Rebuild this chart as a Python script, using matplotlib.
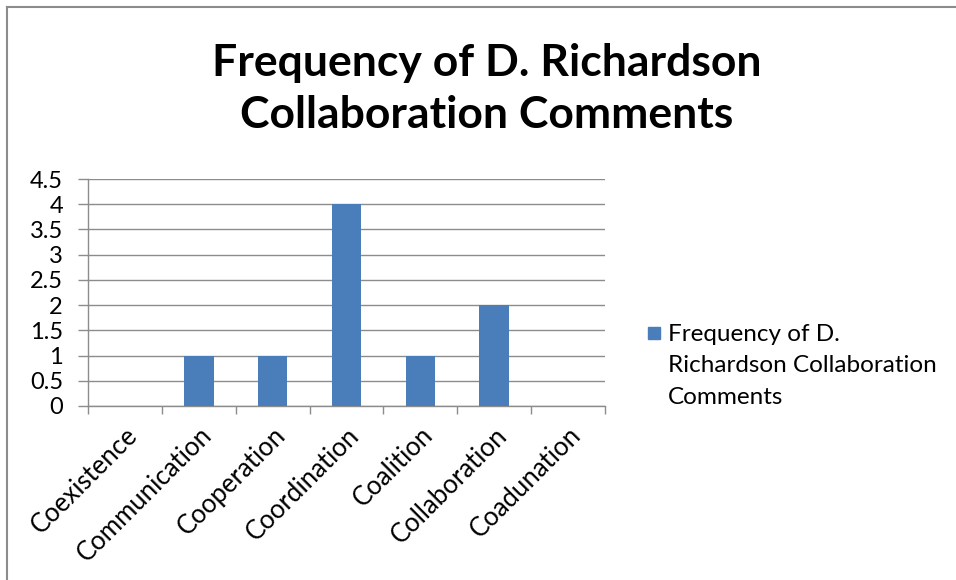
import matplotlib
matplotlib.use("Agg")
import matplotlib.pyplot as plt
from matplotlib.patches import Rectangle
from matplotlib.lines import Line2D

categories = ["Coexistence", "Communication", "Cooperation", "Coordination",
              "Coalition", "Collaboration", "Coadunation"]
values = [0, 1, 1, 4, 1, 2, 0]
yticks = [0, 0.5, 1, 1.5, 2, 2.5, 3, 3.5, 4, 4.5]
ytick_labels = ["0", "0.5", "1", "1.5", "2", "2.5", "3", "3.5", "4", "4.5"]
title = "Frequency of D. Richardson\nCollaboration Comments"
series_name = "Frequency of D.\nRichardson Collaboration\nComments"

plt.rcParams['font.family'] = ['Lato', 'DejaVu Sans']
W, H = 956, 580
fig = plt.figure(figsize=(W / 100, H / 100), dpi=100)

ax = fig.add_axes([88 / W, 1 - 406 / H, (605 - 88) / W, (406 - 179) / H])
x = list(range(len(categories)))
bar_color = "#4A7EBB"
ax.bar(x, values, width=0.4, color=bar_color, zorder=3)

ax.set_xlim(-0.5, len(categories) - 0.5)
ax.set_ylim(0, 4.5)
ax.set_yticks(yticks)
ax.set_yticklabels(ytick_labels, fontsize=17)
ax.yaxis.grid(True, color="#8C8C8C", linewidth=1.0, zorder=0)
ax.tick_params(axis='y', length=7, width=1, color="#8C8C8C", pad=11)

ax.set_xticks([i - 0.5 for i in range(len(categories) + 1)])
ax.set_xticklabels([])
ax.set_xticks(x, minor=True)
ax.set_xticklabels(categories, minor=True, rotation=45, ha='right',
                   rotation_mode='anchor', fontsize=18.5)
ax.tick_params(axis='x', which='major', length=6, width=1, color="#8C8C8C")
ax.tick_params(axis='x', which='minor', length=0, pad=12)

for s in ["top", "right"]:
    ax.spines[s].set_visible(False)
for s in ["left", "bottom"]:
    ax.spines[s].set_color("#8C8C8C")
    ax.spines[s].set_linewidth(1.0)

fig.text(487 / W, 1 - 89 / H, title, ha='center', va='center',
         fontsize=32, fontweight='bold', linespacing=1.38)

# legend swatch and text
fig.patches.append(Rectangle((648 / W, 1 - 339 / H), 12 / W, 12 / H,
                             transform=fig.transFigure, color=bar_color))
fig.text(668 / W, 1 - 366 / H, series_name, ha='left', va='center',
         fontsize=17.5, linespacing=1.62)

# chart border (top and left)
fig.add_artist(Line2D([7 / W, 1], [1 - 7 / H, 1 - 7 / H],
                      transform=fig.transFigure, color="#8C8C8C", linewidth=1.5))
fig.add_artist(Line2D([7 / W, 7 / W], [0, 1 - 7 / H],
                      transform=fig.transFigure, color="#8C8C8C", linewidth=1.5))

fig.savefig("out.png", dpi=100, facecolor="white")
